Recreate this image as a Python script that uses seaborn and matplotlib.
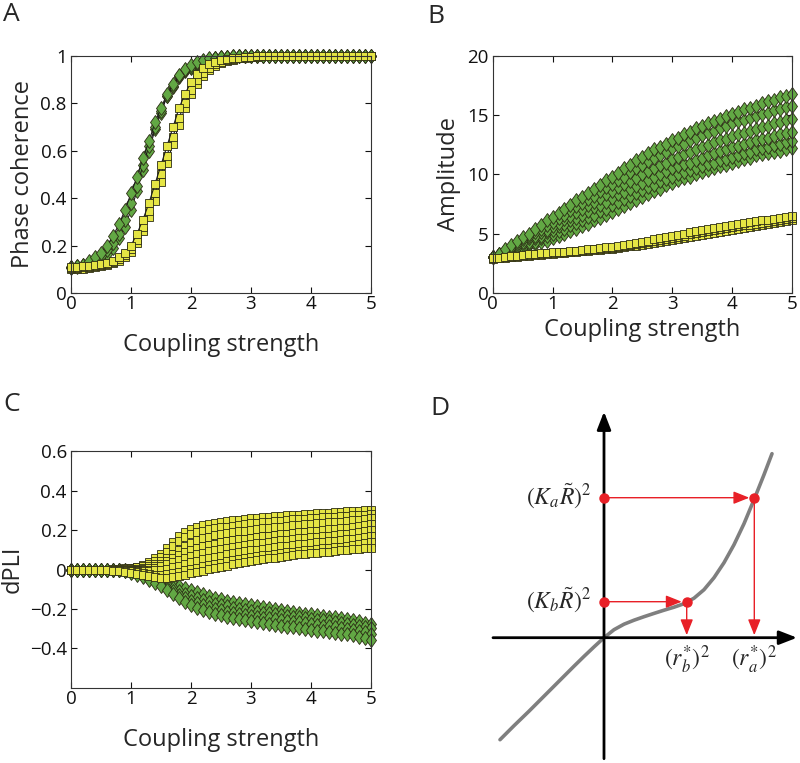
import numpy as np
import pandas as pd
import matplotlib
matplotlib.use("Agg")
import matplotlib.pyplot as plt
from matplotlib.markers import MarkerStyle
from matplotlib.transforms import Affine2D
import seaborn as sns

sns.set_theme(style="ticks")
plt.rcParams['font.family'] = ['Open Sans', 'DejaVu Sans']
plt.rcParams['mathtext.fontset'] = 'stix'

# coupling strengths sampled in the simulations
coupling = np.round(np.arange(0, 5.01, 0.1), 1)

# ---------------- panel A : phase coherence ----------------
coh_green_hi = [0.11, 0.115, 0.12, 0.135, 0.15, 0.17, 0.20, 0.24, 0.29, 0.35,
                0.42, 0.49, 0.57, 0.64, 0.72, 0.78, 0.84, 0.88, 0.92, 0.945,
                0.96, 0.975, 0.985, 0.99, 0.993, 0.995, 0.997, 0.998, 0.999, 1.0,
                1.0, 1.0, 1.0, 1.0, 1.0, 1.0, 1.0, 1.0, 1.0, 1.0,
                1.0, 1.0, 1.0, 1.0, 1.0, 1.0, 1.0, 1.0, 1.0, 1.0, 1.0]
coh_green_mid = [0.11, 0.113, 0.118, 0.128, 0.14, 0.155, 0.18, 0.21, 0.25, 0.31,
                 0.38, 0.45, 0.54, 0.62, 0.70, 0.77, 0.83, 0.875, 0.915, 0.94,
                 0.955, 0.97, 0.98, 0.987, 0.991, 0.994, 0.996, 0.998, 0.999, 1.0,
                 1.0, 1.0, 1.0, 1.0, 1.0, 1.0, 1.0, 1.0, 1.0, 1.0,
                 1.0, 1.0, 1.0, 1.0, 1.0, 1.0, 1.0, 1.0, 1.0, 1.0, 1.0]
coh_green_lo = [0.105, 0.108, 0.112, 0.12, 0.13, 0.145, 0.165, 0.19, 0.23, 0.28,
                0.35, 0.43, 0.52, 0.60, 0.69, 0.76, 0.83, 0.87, 0.91, 0.935,
                0.95, 0.965, 0.977, 0.985, 0.99, 0.993, 0.995, 0.997, 0.999, 1.0,
                1.0, 1.0, 1.0, 1.0, 1.0, 1.0, 1.0, 1.0, 1.0, 1.0,
                1.0, 1.0, 1.0, 1.0, 1.0, 1.0, 1.0, 1.0, 1.0, 1.0, 1.0]
coh_yellow_hi = [0.11, 0.11, 0.112, 0.115, 0.118, 0.122, 0.128, 0.137, 0.15, 0.17,
                 0.20, 0.25, 0.31, 0.38, 0.46, 0.54, 0.62, 0.70, 0.78, 0.84,
                 0.89, 0.925, 0.95, 0.965, 0.975, 0.982, 0.987, 0.99, 0.993, 0.995,
                 0.997, 0.998, 0.999, 1.0, 1.0, 1.0, 1.0, 1.0, 1.0, 1.0,
                 1.0, 1.0, 1.0, 1.0, 1.0, 1.0, 1.0, 1.0, 1.0, 1.0, 1.0]
coh_yellow_mid = [0.105, 0.106, 0.108, 0.11, 0.113, 0.117, 0.122, 0.13, 0.142, 0.16,
                  0.185, 0.225, 0.28, 0.345, 0.42, 0.50, 0.58, 0.66, 0.74, 0.80,
                  0.855, 0.90, 0.93, 0.95, 0.965, 0.975, 0.982, 0.987, 0.991, 0.994,
                  0.996, 0.998, 0.999, 1.0, 1.0, 1.0, 1.0, 1.0, 1.0, 1.0,
                  1.0, 1.0, 1.0, 1.0, 1.0, 1.0, 1.0, 1.0, 1.0, 1.0, 1.0]
coh_yellow_lo = [0.10, 0.101, 0.103, 0.105, 0.108, 0.112, 0.117, 0.125, 0.135, 0.15,
                 0.175, 0.21, 0.26, 0.32, 0.39, 0.47, 0.55, 0.63, 0.71, 0.78,
                 0.84, 0.88, 0.915, 0.94, 0.958, 0.97, 0.978, 0.985, 0.99, 0.993,
                 0.995, 0.997, 0.999, 1.0, 1.0, 1.0, 1.0, 1.0, 1.0, 1.0,
                 1.0, 1.0, 1.0, 1.0, 1.0, 1.0, 1.0, 1.0, 1.0, 1.0, 1.0]

# ---------------- panel B : amplitude ----------------
amp_green_6 = [3.0, 3.3, 3.7, 4.0, 4.4, 4.7, 5.0, 5.4, 5.7, 6.1,
               6.4, 6.7, 7.1, 7.4, 7.8, 8.1, 8.4, 8.8, 9.1, 9.5,
               9.8, 10.1, 10.5, 10.8, 11.2, 11.5, 11.8, 12.1, 12.3, 12.6,
               12.9, 13.1, 13.4, 13.6, 13.9, 14.1, 14.3, 14.5, 14.7, 14.9,
               15.1, 15.3, 15.5, 15.6, 15.8, 16.0, 16.2, 16.3, 16.5, 16.6, 16.8]
amp_green_5 = [3.0, 3.3, 3.6, 3.9, 4.2, 4.5, 4.8, 5.1, 5.4, 5.7,
               6.0, 6.3, 6.6, 7.0, 7.3, 7.6, 7.9, 8.2, 8.6, 8.9,
               9.2, 9.5, 9.8, 10.2, 10.5, 10.8, 11.1, 11.4, 11.6, 11.9,
               12.2, 12.4, 12.6, 12.9, 13.1, 13.3, 13.5, 13.7, 13.9, 14.1,
               14.3, 14.5, 14.6, 14.8, 14.9, 15.1, 15.2, 15.4, 15.5, 15.7, 15.8]
amp_green_4 = [3.0, 3.3, 3.5, 3.8, 4.0, 4.3, 4.6, 4.8, 5.1, 5.3,
               5.6, 5.9, 6.2, 6.5, 6.8, 7.1, 7.4, 7.7, 8.0, 8.3,
               8.6, 8.9, 9.2, 9.4, 9.7, 10.0, 10.3, 10.5, 10.8, 11.0,
               11.3, 11.5, 11.7, 11.9, 12.1, 12.3, 12.5, 12.7, 12.9, 13.0,
               13.2, 13.4, 13.5, 13.7, 13.8, 14.0, 14.1, 14.3, 14.4, 14.6, 14.7]
amp_green_3 = [3.0, 3.2, 3.4, 3.7, 3.9, 4.1, 4.3, 4.6, 4.8, 5.1,
               5.3, 5.6, 5.8, 6.1, 6.3, 6.6, 6.9, 7.2, 7.4, 7.7,
               8.0, 8.3, 8.5, 8.8, 9.0, 9.3, 9.5, 9.8, 10.0, 10.3,
               10.5, 10.7, 10.9, 11.0, 11.2, 11.4, 11.6, 11.8, 12.0, 12.1,
               12.3, 12.4, 12.6, 12.7, 12.9, 13.0, 13.1, 13.2, 13.4, 13.5, 13.6]
amp_green_2 = [3.0, 3.2, 3.4, 3.5, 3.7, 3.9, 4.1, 4.3, 4.6, 4.8,
               5.0, 5.2, 5.4, 5.7, 5.9, 6.1, 6.4, 6.6, 6.9, 7.1,
               7.4, 7.7, 7.9, 8.2, 8.4, 8.7, 8.9, 9.1, 9.4, 9.6,
               9.8, 10.0, 10.2, 10.4, 10.5, 10.7, 10.9, 11.0, 11.2, 11.3,
               11.5, 11.6, 11.8, 11.9, 12.1, 12.2, 12.3, 12.5, 12.6, 12.7, 12.8]
amp_green_1 = [3.0, 3.2, 3.3, 3.5, 3.6, 3.8, 4.0, 4.1, 4.3, 4.4,
               4.6, 4.8, 5.0, 5.2, 5.4, 5.6, 5.8, 6.1, 6.3, 6.6,
               6.8, 7.1, 7.3, 7.6, 7.8, 8.1, 8.3, 8.6, 8.8, 9.1,
               9.3, 9.5, 9.7, 9.8, 10.0, 10.2, 10.4, 10.5, 10.7, 10.8,
               11.0, 11.1, 11.3, 11.4, 11.6, 11.7, 11.8, 11.9, 12.0, 12.1, 12.2]
amp_yellow_top = [2.9, 2.96, 3.02, 3.08, 3.14, 3.2, 3.24, 3.28, 3.32, 3.36,
                  3.4, 3.44, 3.48, 3.52, 3.56, 3.6, 3.66, 3.72, 3.78, 3.84,
                  3.9, 3.98, 4.06, 4.14, 4.22, 4.3, 4.4, 4.5, 4.6, 4.7,
                  4.8, 4.9, 5.0, 5.1, 5.2, 5.3, 5.38, 5.46, 5.54, 5.62,
                  5.7, 5.78, 5.86, 5.94, 6.02, 6.1, 6.18, 6.26, 6.34, 6.42, 6.5]
amp_yellow_mid = [2.9, 2.95, 3.0, 3.05, 3.1, 3.15, 3.2, 3.24, 3.28, 3.32,
                  3.36, 3.4, 3.44, 3.48, 3.52, 3.56, 3.6, 3.65, 3.7, 3.75,
                  3.8, 3.87, 3.94, 4.01, 4.08, 4.16, 4.25, 4.34, 4.43, 4.52,
                  4.62, 4.72, 4.82, 4.92, 5.02, 5.12, 5.2, 5.28, 5.36, 5.44,
                  5.52, 5.6, 5.68, 5.76, 5.84, 5.92, 6.0, 6.08, 6.16, 6.23, 6.3]
amp_yellow_bot = [2.85, 2.9, 2.95, 3.0, 3.05, 3.1, 3.14, 3.18, 3.22, 3.26,
                  3.3, 3.34, 3.38, 3.42, 3.46, 3.5, 3.54, 3.58, 3.63, 3.68,
                  3.73, 3.79, 3.85, 3.91, 3.97, 4.04, 4.12, 4.2, 4.28, 4.36,
                  4.45, 4.54, 4.63, 4.72, 4.81, 4.9, 4.98, 5.06, 5.14, 5.22,
                  5.3, 5.38, 5.46, 5.54, 5.62, 5.7, 5.78, 5.86, 5.94, 6.02, 6.1]

# ---------------- panel C : dPLI ----------------
dpli_yellow_1 = [0.0, 0.0, 0.0, 0.0, 0.0, 0.0, 0.0, 0.005, 0.005, 0.01,
                 0.01, 0.015, 0.025, 0.04, 0.06, 0.08, 0.11, 0.14, 0.17, 0.19,
                 0.205, 0.215, 0.225, 0.232, 0.238, 0.243, 0.246, 0.25, 0.253, 0.256,
                 0.259, 0.262, 0.264, 0.267, 0.269, 0.271, 0.274, 0.276, 0.278, 0.28,
                 0.282, 0.284, 0.286, 0.288, 0.29, 0.292, 0.294, 0.296, 0.298, 0.30, 0.302]
dpli_yellow_2 = [0.0, 0.0, 0.0, 0.0, 0.0, 0.0, 0.0, 0.0, 0.005, 0.005,
                 0.01, 0.015, 0.02, 0.03, 0.045, 0.065, 0.09, 0.12, 0.145, 0.165,
                 0.18, 0.19, 0.197, 0.203, 0.208, 0.213, 0.217, 0.221, 0.225, 0.229,
                 0.233, 0.236, 0.239, 0.242, 0.245, 0.248, 0.251, 0.254, 0.256, 0.258,
                 0.26, 0.262, 0.264, 0.266, 0.268, 0.27, 0.272, 0.274, 0.276, 0.278, 0.28]
dpli_yellow_3 = [0.0, 0.0, 0.0, 0.0, 0.0, 0.0, 0.0, 0.0, 0.0, 0.0,
                 0.005, 0.005, 0.01, 0.02, 0.03, 0.045, 0.06, 0.08, 0.10, 0.12,
                 0.135, 0.148, 0.158, 0.166, 0.173, 0.179, 0.184, 0.189, 0.193, 0.197,
                 0.201, 0.205, 0.208, 0.211, 0.214, 0.217, 0.22, 0.223, 0.226, 0.229,
                 0.232, 0.235, 0.237, 0.239, 0.241, 0.243, 0.246, 0.249, 0.252, 0.256, 0.26]
dpli_yellow_4 = [0.0, 0.0, 0.0, 0.0, 0.0, 0.0, 0.0, 0.0, 0.0, 0.0,
                 0.0, 0.0, 0.005, 0.01, 0.02, 0.03, 0.045, 0.06, 0.075, 0.09,
                 0.10, 0.11, 0.118, 0.125, 0.131, 0.137, 0.142, 0.147, 0.152, 0.156,
                 0.16, 0.164, 0.168, 0.172, 0.176, 0.179, 0.182, 0.185, 0.188, 0.191,
                 0.194, 0.197, 0.20, 0.203, 0.206, 0.209, 0.212, 0.216, 0.22, 0.225, 0.23]
dpli_yellow_5 = [0.0, 0.0, 0.0, 0.0, 0.0, 0.0, 0.0, 0.0, 0.0, -0.005,
                 -0.005, -0.005, 0.0, 0.0, 0.01, 0.02, 0.03, 0.04, 0.05, 0.06,
                 0.07, 0.078, 0.085, 0.092, 0.098, 0.104, 0.109, 0.114, 0.119, 0.124,
                 0.128, 0.132, 0.136, 0.14, 0.144, 0.148, 0.151, 0.154, 0.157, 0.16,
                 0.163, 0.166, 0.169, 0.172, 0.175, 0.178, 0.182, 0.186, 0.19, 0.195, 0.20]
dpli_yellow_6 = [0.0, 0.0, 0.0, 0.0, 0.0, 0.0, 0.0, -0.005, -0.005, -0.005,
                 -0.01, -0.01, -0.01, -0.01, -0.005, 0.0, 0.005, 0.012, 0.02, 0.028,
                 0.036, 0.044, 0.051, 0.058, 0.064, 0.07, 0.076, 0.082, 0.087, 0.092,
                 0.097, 0.101, 0.105, 0.109, 0.113, 0.117, 0.121, 0.125, 0.128, 0.131,
                 0.134, 0.137, 0.14, 0.143, 0.146, 0.149, 0.152, 0.155, 0.159, 0.164, 0.17]
dpli_yellow_7 = [0.0, 0.0, 0.0, 0.0, 0.0, 0.0, -0.005, -0.005, -0.005, -0.01,
                 -0.01, -0.015, -0.02, -0.025, -0.03, -0.03, -0.025, -0.02, -0.012, -0.005,
                 0.002, 0.009, 0.016, 0.023, 0.029, 0.035, 0.041, 0.047, 0.052, 0.057,
                 0.062, 0.067, 0.071, 0.075, 0.079, 0.083, 0.087, 0.091, 0.095, 0.098,
                 0.101, 0.104, 0.107, 0.11, 0.113, 0.116, 0.119, 0.123, 0.127, 0.133, 0.14]
dpli_yellow_8 = [0.0, 0.0, 0.0, 0.0, 0.0, -0.005, -0.005, -0.01, -0.01, -0.015,
                 -0.02, -0.025, -0.03, -0.035, -0.04, -0.045, -0.045, -0.04, -0.035, -0.028,
                 -0.02, -0.013, -0.006, 0.001, 0.008, 0.014, 0.02, 0.026, 0.032, 0.037,
                 0.042, 0.047, 0.052, 0.056, 0.06, 0.064, 0.068, 0.072, 0.076, 0.079,
                 0.082, 0.085, 0.088, 0.091, 0.094, 0.097, 0.10, 0.103, 0.106, 0.108, 0.11]
dpli_green_1 = [0.0, 0.0, 0.0, 0.0, 0.0, 0.0, 0.0, 0.0, 0.0, -0.005,
                -0.01, -0.015, -0.025, -0.035, -0.045, -0.055, -0.065, -0.075, -0.085, -0.095,
                -0.105, -0.115, -0.125, -0.135, -0.143, -0.15, -0.157, -0.164, -0.17, -0.176,
                -0.182, -0.187, -0.192, -0.197, -0.202, -0.207, -0.211, -0.215, -0.219, -0.223,
                -0.227, -0.231, -0.235, -0.239, -0.243, -0.247, -0.252, -0.257, -0.263, -0.27, -0.278]
dpli_green_2 = [0.0, 0.0, 0.0, 0.0, 0.0, 0.0, 0.0, 0.0, 0.0, -0.005,
                -0.01, -0.02, -0.03, -0.04, -0.05, -0.063, -0.078, -0.093, -0.108, -0.122,
                -0.135, -0.146, -0.156, -0.165, -0.173, -0.18, -0.187, -0.193, -0.199, -0.204,
                -0.209, -0.214, -0.218, -0.222, -0.226, -0.23, -0.234, -0.238, -0.242, -0.246,
                -0.25, -0.254, -0.258, -0.262, -0.266, -0.27, -0.274, -0.279, -0.285, -0.291, -0.298]
dpli_green_3 = [0.0, 0.0, 0.0, 0.0, 0.0, 0.0, 0.0, 0.0, -0.005, -0.01,
                -0.015, -0.025, -0.035, -0.047, -0.06, -0.075, -0.092, -0.11, -0.128, -0.145,
                -0.16, -0.172, -0.182, -0.191, -0.199, -0.206, -0.213, -0.219, -0.225, -0.23,
                -0.235, -0.24, -0.244, -0.248, -0.252, -0.256, -0.26, -0.264, -0.268, -0.272,
                -0.276, -0.28, -0.284, -0.288, -0.292, -0.296, -0.30, -0.305, -0.311, -0.318, -0.326]
dpli_green_4 = [0.0, 0.0, 0.0, 0.0, 0.0, 0.0, 0.0, 0.0, -0.005, -0.01,
                -0.02, -0.03, -0.04, -0.053, -0.068, -0.085, -0.105, -0.125, -0.145, -0.163,
                -0.18, -0.193, -0.204, -0.214, -0.223, -0.231, -0.238, -0.245, -0.251, -0.257,
                -0.262, -0.267, -0.272, -0.277, -0.281, -0.285, -0.289, -0.293, -0.297, -0.301,
                -0.305, -0.309, -0.313, -0.317, -0.321, -0.325, -0.329, -0.334, -0.34, -0.347, -0.355]

# ---------------- panel D : schematic (pixel units from the origin) ----------------
curve_x = [-104, -90, -75, -60, -45, -30, -20, -10, 0, 10, 20, 30, 40, 50, 60,
           70, 80, 90, 100, 110, 120, 130, 140, 150, 160, 168]
curve_y = [-102, -88, -73.5, -58.5, -43.5, -28.5, -18.7, -9.2, 0, 8, 13.5, 17.5, 21, 24.3, 27.5,
           30.5, 34, 39.5, 48, 60, 75, 93, 114, 138, 163, 184]
levels_y = [140, 36]          # (K_a R)^2 , (K_b R)^2
roots_x = [150.3, 82.7]       # (r_a*)^2 , (r_b*)^2
level_labels = [r'$(K_a\tilde{R})^2$', r'$(K_b\tilde{R})^2$']
root_labels = [r'$(r_a^{*})^2$', r'$(r_b^{*})^2$']

GREEN = '#62a844'
YELLOW = '#e5e544'
EDGE = '#2b2b14'


def to_long(curves):
    rows = []
    for name, vals in curves.items():
        rows.append(pd.DataFrame({'coupling': coupling, 'value': vals, 'curve': name}))
    return pd.concat(rows, ignore_index=True)


diamond = MarkerStyle('D', transform=Affine2D().scale(0.72, 1.0))


def draw_group(ax, df, kind):
    if kind == 'green':
        mk, ms, fc = diamond, 6.8, GREEN
    else:
        mk, ms, fc = 's', 5.8, YELLOW
    sns.lineplot(data=df, x='coupling', y='value', units='curve', estimator=None,
                 sort=False, color='#1a1a1a', lw=0.8, marker=mk, markersize=ms,
                 markerfacecolor=fc, markeredgecolor=EDGE, markeredgewidth=0.6,
                 clip_on=False, legend=False, ax=ax)


def style_axes(ax, ylabel, xlabelpad):
    ax.set_xlim(0, 5)
    ax.set_xticks([0, 1, 2, 3, 4, 5])
    ax.set_xlabel('Coupling strength', fontsize=17, labelpad=xlabelpad)
    ax.set_ylabel(ylabel, fontsize=17, labelpad=4)
    ax.tick_params(direction='in', length=4, width=0.8, top=True, right=True,
                   labelsize=13.5, colors='#111111')
    ax.tick_params(axis='x', pad=1.5)
    ax.tick_params(axis='y', pad=3)
    for s in ax.spines.values():
        s.set_linewidth(0.8)
        s.set_color('#333333')


fig = plt.figure(figsize=(8, 7.63), dpi=100)

# panel A
axA = fig.add_axes([0.08875, 0.616, 0.375, 0.3106])
dfA_g = to_long({'g1': coh_green_lo, 'g2': coh_green_mid, 'g3': coh_green_hi})
dfA_y = to_long({'y1': coh_yellow_lo, 'y2': coh_yellow_mid, 'y3': coh_yellow_hi})
draw_group(axA, dfA_g, 'green')
draw_group(axA, dfA_y, 'yellow')
style_axes(axA, 'Phase coherence', 14)
axA.set_ylim(0, 1)
axA.set_yticks([0, 0.2, 0.4, 0.6, 0.8, 1.0])
axA.set_yticklabels(['0', '0.2', '0.4', '0.6', '0.8', '1'])

# panel B
axB = fig.add_axes([0.6159, 0.6164, 0.3738, 0.3102])
dfB_g = to_long({'g1': amp_green_1, 'g2': amp_green_2, 'g3': amp_green_3,
                 'g4': amp_green_4, 'g5': amp_green_5, 'g6': amp_green_6})
dfB_y = to_long({'y1': amp_yellow_bot, 'y2': amp_yellow_mid, 'y3': amp_yellow_top})
draw_group(axB, dfB_g, 'green')
draw_group(axB, dfB_y, 'yellow')
style_axes(axB, 'Amplitude', 4)
axB.set_ylim(0, 20)
axB.set_yticks([0, 5, 10, 15, 20])

# panel C
axC = fig.add_axes([0.08875, 0.0983, 0.375, 0.3106])
dfC_g = to_long({'g1': dpli_green_1, 'g2': dpli_green_2, 'g3': dpli_green_3, 'g4': dpli_green_4})
dfC_y = to_long({'y1': dpli_yellow_1, 'y2': dpli_yellow_2, 'y3': dpli_yellow_3, 'y4': dpli_yellow_4,
                 'y5': dpli_yellow_5, 'y6': dpli_yellow_6, 'y7': dpli_yellow_7, 'y8': dpli_yellow_8})
draw_group(axC, dfC_g, 'green')
draw_group(axC, dfC_y, 'yellow')
style_axes(axC, 'dPLI', 14)
axC.set_ylim(-0.6, 0.6)
axC.set_yticks([-0.4, -0.2, 0, 0.2, 0.4, 0.6])
axC.set_yticklabels(['\u22120.4', '\u22120.2', '0', '0.2', '0.4', '0.6'])

# panel D : schematic
axD = fig.add_axes([0.6, 0.0, 0.4, 383 / 763])
axD.set_xlim(-124, 196)
axD.set_ylim(-125.3, 257.7)
axD.axis('off')
axD.annotate('', xy=(0, 226), xytext=(0, -121),
             arrowprops=dict(arrowstyle='-|>,head_length=0.9,head_width=0.35', lw=2, color='black',
                             shrinkA=0, shrinkB=0))
axD.annotate('', xy=(193, 0), xytext=(-111, 0),
             arrowprops=dict(arrowstyle='-|>,head_length=0.9,head_width=0.35', lw=2, color='black',
                             shrinkA=0, shrinkB=0))
sns.lineplot(x=curve_x, y=curve_y, sort=False, color='#7f7f7f', lw=2.6, ax=axD)
RED = '#e82027'
red_arrow = dict(arrowstyle='-|>,head_length=0.8,head_width=0.32', lw=1.0, color=RED,
                 shrinkA=0, shrinkB=0)
for ly, rx, llab, rlab in zip(levels_y, roots_x, level_labels, root_labels):
    axD.annotate('', xy=(rx - 5, ly), xytext=(0, ly), arrowprops=red_arrow)
    axD.annotate('', xy=(rx, 2.5), xytext=(rx, ly), arrowprops=red_arrow)
    axD.plot([0, rx], [ly, ly], 'o', color=RED, ms=6.5, zorder=5)
    axD.text(-12, ly + 2, llab, ha='right', va='center', fontsize=17)
    axD.text(rx, -22, rlab, ha='center', va='center', fontsize=17)

# panel letters
for lbl, (px, py) in zip('ABCD', [(3, 2), (427, 4), (3, 392), (430, 396)]):
    fig.text(px / 800, 1 - py / 763, lbl, fontsize=19, ha='left', va='top')

fig.savefig('out.png', dpi=100)
